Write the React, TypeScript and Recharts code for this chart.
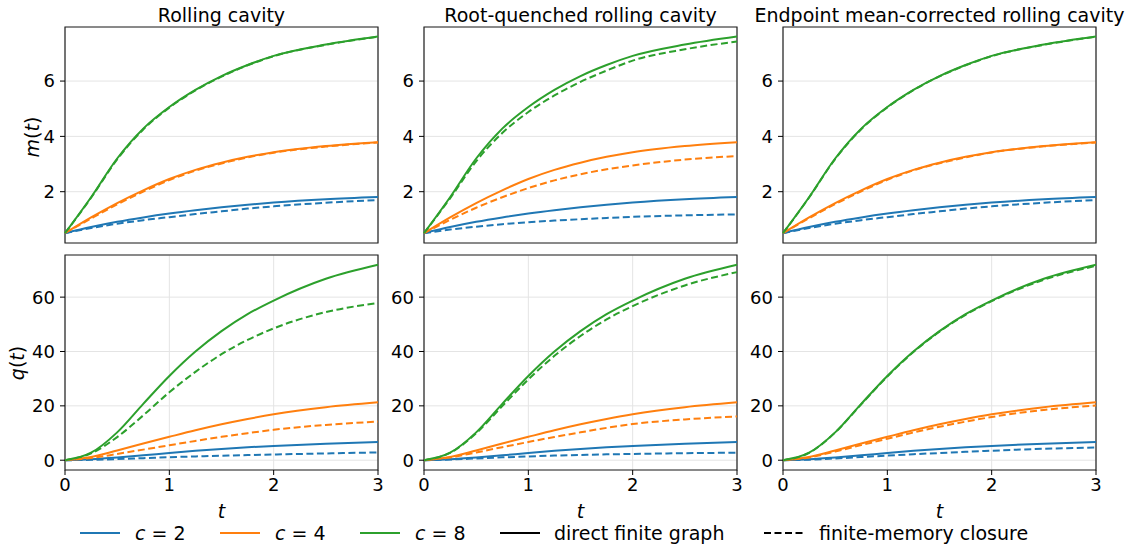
import { LineChart, Line, XAxis, YAxis, CartesianGrid, ReferenceArea } from 'recharts';

const BLUE = '#1f77b4';
const ORANGE = '#ff7f0e';
const GREEN = '#2ca02c';

const T = [0, 0.25, 0.5, 0.75, 1, 1.25, 1.5, 1.75, 2, 2.5, 3];

// m(t), direct finite graph (same in every column)
const M_DIRECT_C2 = [0.5, 0.72, 0.91, 1.07, 1.21, 1.33, 1.435, 1.525, 1.605, 1.725, 1.805];
const M_DIRECT_C4 = [0.5, 1.07, 1.59, 2.05, 2.46, 2.79, 3.05, 3.26, 3.43, 3.65, 3.79];
const M_DIRECT_C8 = [0.5, 1.8, 3.2, 4.28, 5.06, 5.68, 6.18, 6.58, 6.91, 7.32, 7.61];

// m(t), finite-memory closure
const M_ROLL_C2 = [0.5, 0.685, 0.84, 0.97, 1.08, 1.19, 1.29, 1.39, 1.47, 1.6, 1.7];
const M_ROLL_C4 = [0.5, 1.03, 1.54, 2.0, 2.42, 2.76, 3.02, 3.24, 3.41, 3.63, 3.78];
const M_ROLL_C8 = [0.5, 1.78, 3.17, 4.25, 5.04, 5.66, 6.16, 6.57, 6.9, 7.31, 7.6];

const M_ROOT_C2 = [0.5, 0.63, 0.735, 0.825, 0.895, 0.955, 1.005, 1.05, 1.09, 1.145, 1.18];
const M_ROOT_C4 = [0.5, 0.98, 1.42, 1.8, 2.13, 2.41, 2.63, 2.81, 2.95, 3.16, 3.29];
const M_ROOT_C8 = [0.5, 1.76, 3.1, 4.12, 4.88, 5.48, 5.97, 6.38, 6.74, 7.15, 7.43];

const M_END_C2 = [0.5, 0.685, 0.84, 0.97, 1.08, 1.19, 1.29, 1.39, 1.47, 1.6, 1.7];
const M_END_C4 = [0.5, 1.04, 1.55, 2.01, 2.43, 2.77, 3.03, 3.24, 3.42, 3.64, 3.78];
const M_END_C8 = [0.5, 1.79, 3.18, 4.26, 5.05, 5.67, 6.17, 6.57, 6.9, 7.31, 7.6];

// q(t), direct finite graph
const Q_DIRECT_C2 = [0, 0.35, 1.0, 1.8, 2.65, 3.45, 4.15, 4.75, 5.25, 6.1, 6.7];
const Q_DIRECT_C4 = [0, 1.2, 3.6, 6.15, 8.6, 11.0, 13.2, 15.15, 16.9, 19.5, 21.3];
const Q_DIRECT_C8 = [0, 2.75, 10.25, 20.75, 31.0, 40.0, 47.5, 53.75, 58.75, 66.75, 71.9];

// q(t), finite-memory closure
const Q_ROLL_C2 = [0, 0.15, 0.42, 0.75, 1.1, 1.4, 1.67, 1.9, 2.1, 2.5, 2.85];
const Q_ROLL_C4 = [0, 0.8, 2.3, 3.9, 5.5, 7.1, 8.6, 9.95, 11.2, 13.0, 14.2];
const Q_ROLL_C8 = [0, 2.5, 8.5, 16.5, 25.0, 32.5, 39.0, 44.25, 48.5, 54.5, 57.8];

const Q_ROOT_C2 = [0, 0.25, 0.65, 1.05, 1.4, 1.7, 1.95, 2.15, 2.32, 2.58, 2.78];
const Q_ROOT_C4 = [0, 1.0, 2.85, 4.8, 6.7, 8.55, 10.25, 11.9, 13.3, 15.0, 16.1];
const Q_ROOT_C8 = [0, 2.7, 9.9, 19.9, 29.7, 38.4, 45.7, 51.8, 56.7, 64.3, 69.2];

const Q_END_C2 = [0, 0.2, 0.65, 1.15, 1.7, 2.2, 2.65, 3.1, 3.5, 4.2, 4.7];
const Q_END_C4 = [0, 1.0, 3.2, 5.55, 7.9, 10.2, 12.3, 14.2, 15.9, 18.5, 20.1];
const Q_END_C8 = [0, 2.7, 10.2, 20.6, 30.8, 39.8, 47.3, 53.5, 58.5, 66.4, 71.5];

const TITLES = ['Rolling cavity', 'Root-quenched rolling cavity', 'Endpoint mean-corrected rolling cavity'];
const X_TICKS = [0, 1, 2, 3];
const M_TICKS = [2, 4, 6];
const Q_TICKS = [0, 20, 40, 60];
const M_DOMAIN: [number, number] = [0.145, 7.955];
const Q_DOMAIN: [number, number] = [-3.6, 75.5];

function rows(s2: number[], s4: number[], s8: number[], d2: number[], d4: number[], d8: number[]) {
  return T.map((t, i) => ({ t, s2: s2[i], s4: s4[i], s8: s8[i], d2: d2[i], d4: d4[i], d8: d8[i] }));
}

const M_DATA = [
  rows(M_DIRECT_C2, M_DIRECT_C4, M_DIRECT_C8, M_ROLL_C2, M_ROLL_C4, M_ROLL_C8),
  rows(M_DIRECT_C2, M_DIRECT_C4, M_DIRECT_C8, M_ROOT_C2, M_ROOT_C4, M_ROOT_C8),
  rows(M_DIRECT_C2, M_DIRECT_C4, M_DIRECT_C8, M_END_C2, M_END_C4, M_END_C8),
];
const Q_DATA = [
  rows(Q_DIRECT_C2, Q_DIRECT_C4, Q_DIRECT_C8, Q_ROLL_C2, Q_ROLL_C4, Q_ROLL_C8),
  rows(Q_DIRECT_C2, Q_DIRECT_C4, Q_DIRECT_C8, Q_ROOT_C2, Q_ROOT_C4, Q_ROOT_C8),
  rows(Q_DIRECT_C2, Q_DIRECT_C4, Q_DIRECT_C8, Q_END_C2, Q_END_C4, Q_END_C8),
];

const FONT = '"DejaVu Sans", sans-serif';
const PLOT_W = 313;
const COLS = [65, 424, 783];
const ROWS = [{ top: 27, h: 216 }, { top: 255, h: 215 }];
const YW = 60;
const MT = 5;
const MR = 10;
const DASH = '7 3.5';

const SERIES = [
  { key: 's2', color: BLUE, dash: undefined },
  { key: 's4', color: ORANGE, dash: undefined },
  { key: 's8', color: GREEN, dash: undefined },
  { key: 'd2', color: BLUE, dash: DASH },
  { key: 'd4', color: ORANGE, dash: DASH },
  { key: 'd8', color: GREEN, dash: DASH },
];

interface PanelProps {
  data: Record<string, number>[];
  left: number;
  top: number;
  h: number;
  domain: [number, number];
  yTicks: number[];
  bottom: boolean;
}

function Panel({ data, left, top, h, domain, yTicks, bottom }: PanelProps) {
  const xh = bottom ? 40 : 10;
  const tickStyle = { fontSize: 18, fill: '#000', fontFamily: FONT };
  return (
    <div style={{ position: 'absolute', left: left - YW, top: top - MT }}>
      <LineChart width={YW + PLOT_W + MR} height={MT + h + xh} data={data}
        margin={{ top: MT, right: MR, left: 0, bottom: 0 }}>
        <CartesianGrid stroke="#e4e4e4" strokeWidth={1} />
        <XAxis dataKey="t" type="number" domain={[0, 3]} ticks={X_TICKS} height={xh}
          axisLine={false} tickSize={5} tickMargin={3}
          tickLine={{ stroke: '#000' }}
          tick={bottom ? tickStyle : false} />
        <YAxis type="number" domain={domain} ticks={yTicks} width={YW}
          axisLine={false} tickSize={5} tickMargin={5}
          tickLine={{ stroke: '#000' }} tick={tickStyle} />
        {SERIES.map(s => (
          <Line key={s.key} dataKey={s.key} type="monotone" stroke={s.color} strokeWidth={2}
            strokeDasharray={s.dash} dot={false} activeDot={false} isAnimationActive={false} />
        ))}
        <ReferenceArea x1={0} x2={3} y1={domain[0]} y2={domain[1]} fill="none"
          stroke="#222" strokeWidth={1.2} ifOverflow="visible" />
      </LineChart>
    </div>
  );
}

function LegendLine({ x, color, dash }: { x: number; color: string; dash?: string }) {
  return (
    <svg style={{ position: 'absolute', left: x, top: 528 }} width={40} height={10}>
      <line x1={0} y1={5} x2={40} y2={5} stroke={color} strokeWidth={2} strokeDasharray={dash} />
    </svg>
  );
}

function LegendText({ x, children }: { x: number; children: any }) {
  return (
    <div style={{ position: 'absolute', left: x, top: 521, lineHeight: '24px', fontSize: 19, whiteSpace: 'nowrap' }}>
      {children}
    </div>
  );
}

export default function App() {
  return (
    <div style={{ position: 'absolute', left: 0, top: 0, width: 1138, height: 550, background: '#fff', fontFamily: FONT, color: '#000' }}>
      {COLS.map((c, i) => (
        <div key={'title' + i} style={{ position: 'absolute', left: c - 40, width: PLOT_W + 80, top: 3, lineHeight: '24px', fontSize: 19, textAlign: 'center', whiteSpace: 'nowrap' }}>
          {TITLES[i]}
        </div>
      ))}
      {COLS.map((c, i) => (
        <Panel key={'m' + i} data={M_DATA[i]} left={c} top={ROWS[0].top} h={ROWS[0].h}
          domain={M_DOMAIN} yTicks={M_TICKS} bottom={false} />
      ))}
      {COLS.map((c, i) => (
        <Panel key={'q' + i} data={Q_DATA[i]} left={c} top={ROWS[1].top} h={ROWS[1].h}
          domain={Q_DOMAIN} yTicks={Q_TICKS} bottom={true} />
      ))}
      {COLS.map((c, i) => (
        <div key={'xl' + i} style={{ position: 'absolute', left: c + PLOT_W / 2 - 10, width: 20, top: 499, lineHeight: '24px', fontSize: 19, textAlign: 'center', fontStyle: 'italic' }}>
          t
        </div>
      ))}
      <div style={{ position: 'absolute', left: 32, top: 137, transform: 'translate(-50%, -50%) rotate(-90deg)', fontSize: 19, whiteSpace: 'nowrap' }}>
        <i>m</i>(<i>t</i>)
      </div>
      <div style={{ position: 'absolute', left: 17, top: 363, transform: 'translate(-50%, -50%) rotate(-90deg)', fontSize: 19, whiteSpace: 'nowrap' }}>
        <i>q</i>(<i>t</i>)
      </div>

      <LegendLine x={80} color={BLUE} />
      <LegendText x={135}><i>c</i> = 2</LegendText>
      <LegendLine x={220} color={ORANGE} />
      <LegendText x={275}><i>c</i> = 4</LegendText>
      <LegendLine x={360} color={GREEN} />
      <LegendText x={415}><i>c</i> = 8</LegendText>
      <LegendLine x={500} color="#000" />
      <LegendText x={554}>direct finite graph</LegendText>
      <LegendLine x={764} color="#000" dash={DASH} />
      <LegendText x={819}>finite-memory closure</LegendText>
    </div>
  );
}
